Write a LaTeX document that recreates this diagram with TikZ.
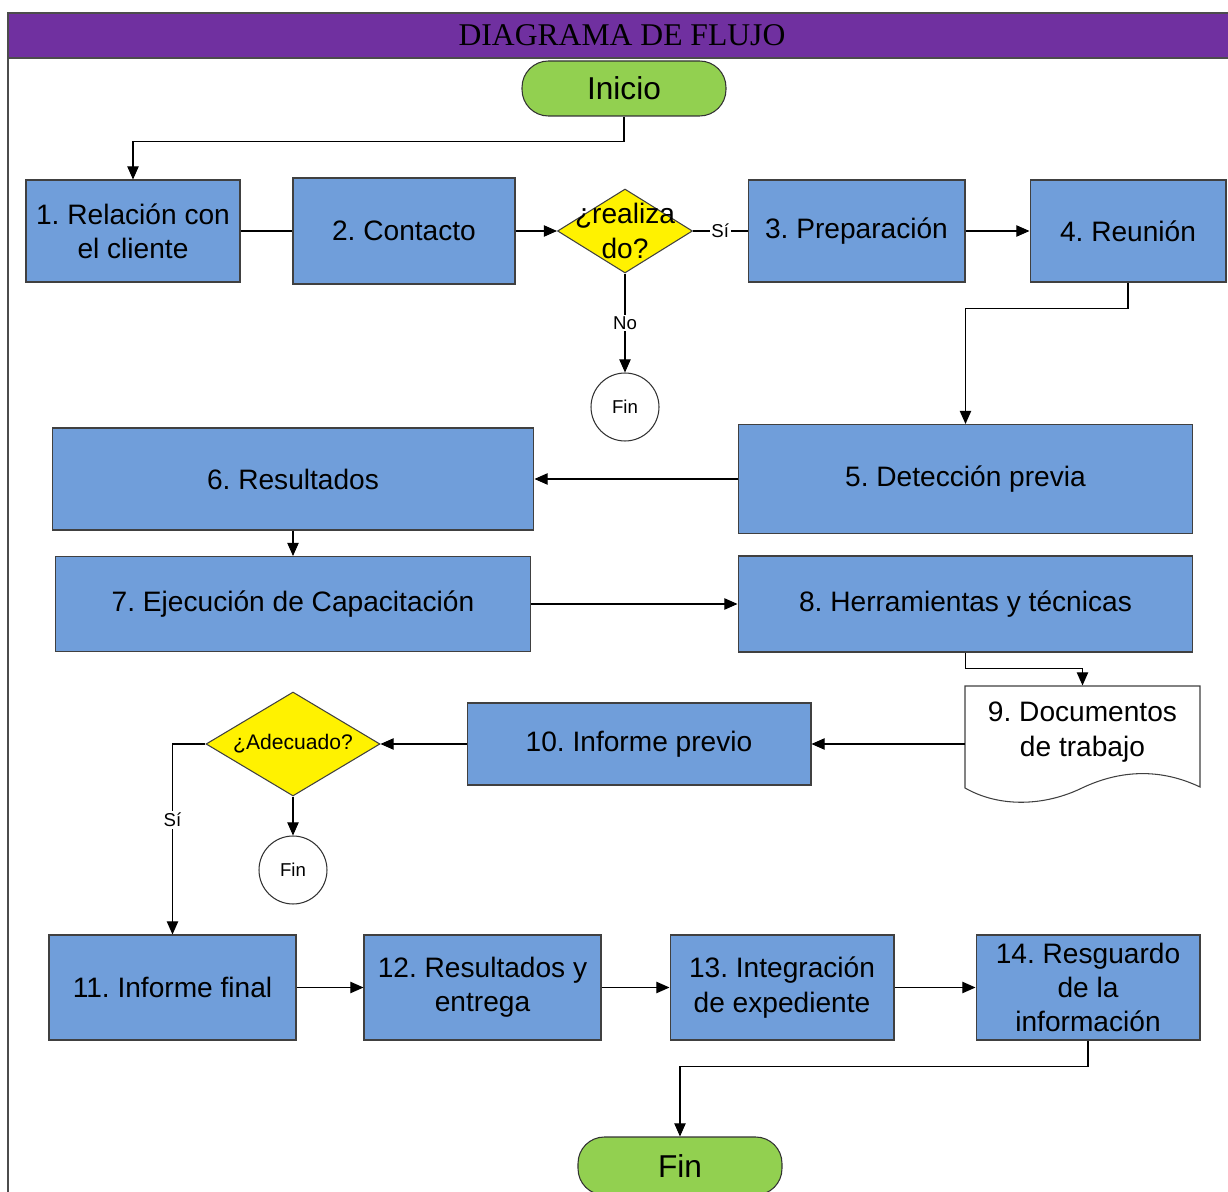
\documentclass[tikz,border=0pt]{standalone}
\usepackage{fontspec}
\setmainfont{Liberation Sans}
\newfontfamily\titulofont{Liberation Serif}
\usetikzlibrary{shapes.geometric,arrows.meta}
\frenchspacing

\definecolor{azulcaja}{RGB}{112,158,218}
\definecolor{verdeterm}{RGB}{146,208,80}
\definecolor{moradotit}{RGB}{112,48,160}

\tikzset{
    proceso/.style={draw=black!75, fill=azulcaja, align=center, inner sep=2pt,
        font=\fontsize{16}{19.5}\selectfont},
    decision/.style={diamond, draw=black!75, fill=yellow, inner sep=0pt},
    terminal/.style={draw=black!80, fill=verdeterm, rounded corners=15pt,
        minimum width=4.08cm, font=\fontsize{18}{21}\selectfont},
    finnodo/.style={circle, draw=black!80, fill=white, minimum size=1.36cm,
        inner sep=0pt, font=\fontsize{10.6}{12}\selectfont},
    flecha/.style={-{Triangle[length=7.5pt,width=6.5pt]}},
    etiqueta/.style={fill=white, inner sep=1pt, font=\fontsize{10.6}{12}\selectfont}
}

\begin{document}
\begin{tikzpicture}[x=0.02cm, y=-0.02cm, line width=0.6pt]
    \useasboundingbox (0,0) rectangle (1228,1192);

    % marco y titulo
    \fill[moradotit] (8,13) rectangle (1228,58);
    \draw[black!70, line width=1.2pt] (1228,13) -- (8,13) -- (8,1192);
    \draw[black!70, line width=1.2pt] (8,58) -- (1228,58);
    \node (titulo) at (622,35) {\titulofont\fontsize{18}{20}\selectfont DIAGRAMA DE FLUJO};

    \node[terminal, minimum height=1.1cm] (inicio) at (624,88.5) {Inicio};

    % fila 1
    \node[proceso, minimum width=4.28cm, minimum height=2.04cm] (rel) at (133,231) {1. Relación con\\el cliente};
    \node[proceso, minimum width=4.44cm, minimum height=2.12cm] (contacto) at (404,231) {2. Contacto};
    \node[decision, minimum width=2.7cm, minimum height=1.68cm,
        label={[align=center, font=\fontsize{16}{19.5}\selectfont]center:¿realiza\\do?}] (realiza) at (625,231) {};
    \node[proceso, minimum width=4.34cm, minimum height=2.04cm] (prep) at (856.5,231) {3. Preparación};
    \node[proceso, minimum width=3.92cm, minimum height=2.04cm] (reunion) at (1128,231) {4. Reunión};
    \node[finnodo] (fin1) at (625,407) {Fin};

    % filas 2 y 3
    \node[proceso, minimum width=9.1cm, minimum height=2.18cm] (deteccion) at (965.5,479) {5. Detección previa};
    \node[proceso, minimum width=9.64cm, minimum height=2.04cm] (resultados) at (293,479) {6. Resultados};
    \node[proceso, minimum width=9.52cm, minimum height=1.9cm] (ejecucion) at (293,604) {7. Ejecución de Capacitación};
    \node[proceso, minimum width=9.1cm, minimum height=1.92cm] (herram) at (965.5,604) {8. Herramientas y técnicas};

    % documento
    \draw[black!75, fill=white] (965,686) -- (1200,686) -- (1200,787)
        .. controls (1160,768) and (1120,770) .. (1082,788)
        .. controls (1045,806) and (1000,808) .. (965,788) -- cycle;
    \node[align=center, minimum width=4.7cm, minimum height=1.84cm, inner sep=0pt,
        font=\fontsize{16}{19.5}\selectfont] (docs) at (1082.5,732) {9. Documentos\\de trabajo};

    \node[proceso, minimum width=6.88cm, minimum height=1.64cm] (inf) at (639,744) {10. Informe previo};
    \node[decision, minimum width=3.48cm, minimum height=2.08cm,
        label={[font=\fontsize{12}{14}\selectfont]center:¿Adecuado?}] (adecuado) at (293,744) {};
    \node[finnodo] (fin2) at (293,870) {Fin};

    % fila final
    \node[proceso, minimum width=4.94cm, minimum height=2.1cm] (final) at (172.5,987.5) {11. Informe final};
    \node[proceso, minimum width=4.74cm, minimum height=2.1cm] (entrega) at (482.5,987.5) {12. Resultados y\\entrega};
    \node[proceso, minimum width=4.48cm, minimum height=2.1cm] (integ) at (782,987.5) {13. Integración\\de expediente};
    \node[proceso, minimum width=4.48cm, minimum height=2.1cm] (resguardo) at (1088,987.5) {14. Resguardo\\de la\\información};
    \node[terminal, minimum height=1.16cm] (fin) at (680,1166) {Fin};

    % conectores
    \draw[flecha] (inicio.south) -- ++(0,25) -| (rel.north);
    \draw (rel) -- (contacto);
    \draw[flecha] (contacto) -- (realiza);
    \draw (realiza) -- node[etiqueta]{Sí} (prep);
    \draw[flecha] (realiza) -- node[etiqueta]{No} (fin1);
    \draw[flecha] (prep) -- (reunion);
    \draw[flecha] (reunion.south) -- ++(0,26) -| (deteccion.north);
    \draw[flecha] (deteccion) -- (resultados);
    \draw[flecha] (resultados) -- (ejecucion);
    \draw[flecha] (ejecucion) -- (herram);
    \draw[flecha] (herram.south) -- ++(0,16) -| (docs.north);
    \draw[flecha] (docs.west |- inf) -- (inf);
    \draw[flecha] (inf) -- (adecuado);
    \draw[flecha] (adecuado) -- (fin2);
    \draw[flecha] (adecuado.west) -| node[etiqueta, pos=0.7]{Sí} (final.north);
    \draw[flecha] (final) -- (entrega);
    \draw[flecha] (entrega) -- (integ);
    \draw[flecha] (integ) -- (resguardo);
    \draw[flecha] (resguardo.south) -- ++(0,26) -| (fin.north);
\end{tikzpicture}
\end{document}
